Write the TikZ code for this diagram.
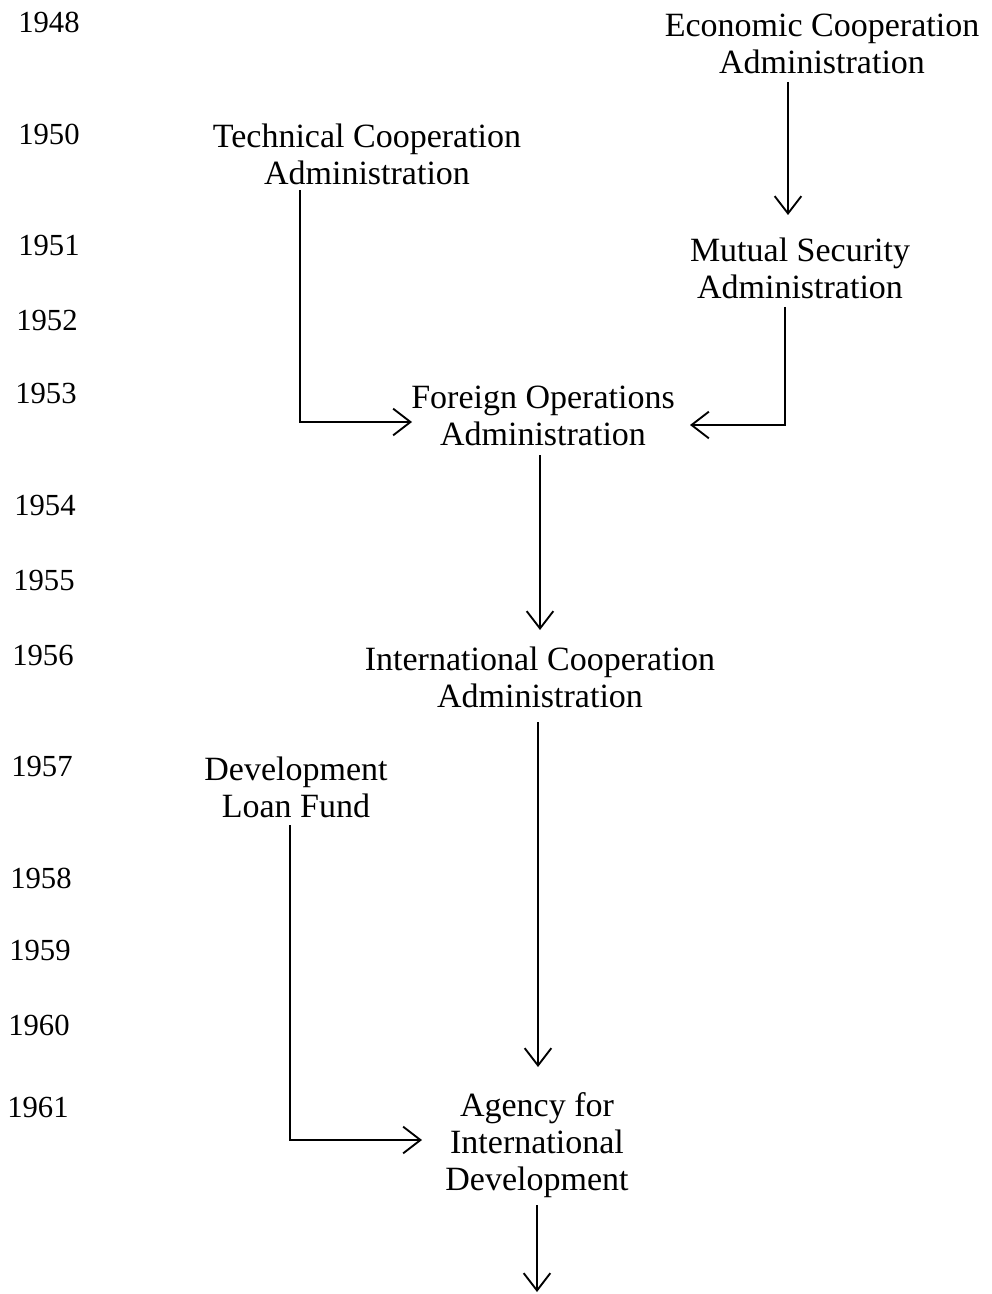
\documentclass[tikz,border=0pt]{standalone}
\usepackage{fontspec}
\setmainfont{Liberation Serif}
\usetikzlibrary{arrows.meta}
\begin{document}
\begin{tikzpicture}[x=0.75pt,y=-0.75pt,
  agency/.style={align=center,inner sep=1pt,font=\fontsize{25.5}{27.75}\selectfont},
  yr/.style={anchor=west,inner sep=0pt,font=\fontsize{23}{25}\selectfont},
  arr/.style={line width=1.4pt,-{Straight Barb[length=13pt,width=20pt,line width=1.4pt]}}]
\useasboundingbox (0,0) rectangle (991,1294);
% years
\node[yr] (y1948) at (18,22) {1948};
\node[yr] (y1950) at (18,134) {1950};
\node[yr] (y1951) at (18,245) {1951};
\node[yr] (y1952) at (16,320) {1952};
\node[yr] (y1953) at (15,393) {1953};
\node[yr] (y1954) at (14,505) {1954};
\node[yr] (y1955) at (13,580) {1955};
\node[yr] (y1956) at (12,655) {1956};
\node[yr] (y1957) at (11,766) {1957};
\node[yr] (y1958) at (10,878) {1958};
\node[yr] (y1959) at (9,950) {1959};
\node[yr] (y1960) at (8,1025) {1960};
\node[yr] (y1961) at (7,1107) {1961};
% agencies
\node[agency] (eca) at (822,44) {Economic Cooperation\\Administration};
\node[agency] (tca) at (367,154) {Technical Cooperation\\Administration};
\node[agency] (msa) at (800,268) {Mutual Security\\Administration};
\node[agency] (foa) at (543,416) {Foreign Operations\\Administration};
\node[agency] (ica) at (540,677) {International Cooperation\\Administration};
\node[agency] (dlf) at (296,787) {Development\\Loan Fund};
\node[agency] (aid) at (537,1145) {Agency for\\International\\Development};
% connector end points
\coordinate (ecaout) at (788,82);
\coordinate (msain) at (788,215);
\coordinate (tcaout) at (300,190);
\coordinate (foainL) at (412,422);
\coordinate (msaout) at (785,307);
\coordinate (foainR) at (690,425);
\coordinate (foaout) at (540,455);
\coordinate (icain) at (540,630);
\coordinate (icaout) at (538,722);
\coordinate (aidin) at (538,1067);
\coordinate (dlfout) at (290,825);
\coordinate (aidinL) at (422,1140);
\coordinate (aidout) at (537,1205);
\coordinate (cont) at (537,1292);
% connectors
\draw[arr] (ecaout) -- (msain);
\draw[arr] (tcaout) |- (foainL);
\draw[arr] (msaout) |- (foainR);
\draw[arr] (foaout) -- (icain);
\draw[arr] (icaout) -- (aidin);
\draw[arr] (dlfout) |- (aidinL);
\draw[arr] (aidout) -- (cont);
\end{tikzpicture}
\end{document}
